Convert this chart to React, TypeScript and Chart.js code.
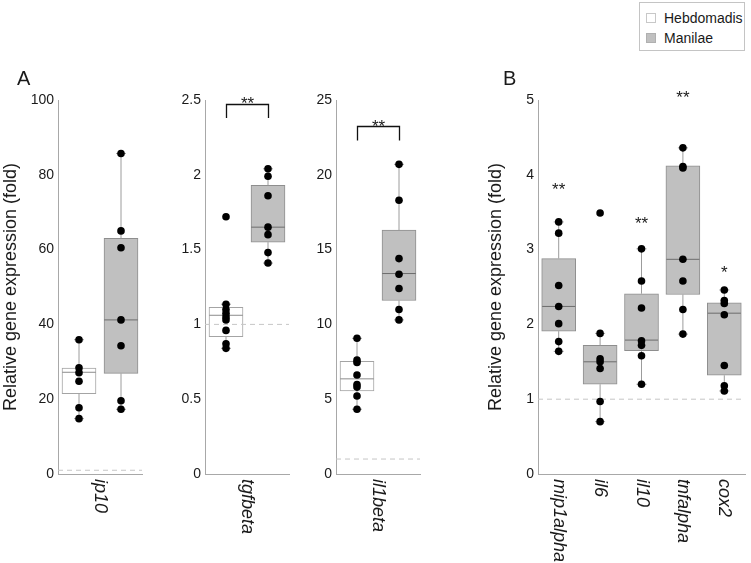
import React, { useEffect, useRef } from "react";
import { Chart, registerables } from "chart.js";

Chart.register(...registerables);

const FONT = "'Liberation Sans', Arial, Helvetica, sans-serif";
const AXIS_COLOR = "#a8a8a8";
const WHISKER_COLOR = "#9c9c9c";
const REF_COLOR = "#c6c6c6";
const TEXT_COLOR = "#1a1a1a";

// ---------- legend ----------
const groupNames = ["Hebdomadis", "Manilae"];
const groupFills = ["#ffffff", "#c0c0c0"];
const groupBorders = ["#a4a4a4", "#8e8e8e"];
const groupMedians = ["#8c8c8c", "#6c6c6c"];

// box stats per category: [min, q1, median, q3, max]
// ---------- Panel A: ip10 ----------
const ip10Categories = ["ip10"];
const ip10HebBox = [[14.8, 21.5, 27.2, 28.3, 35.9]];
const ip10HebPoints = [[35.9, 28.4, 27.1, 24.8, 17.7, 14.8]];
const ip10ManBox = [[17.3, 26.9, 41.2, 63.0, 85.7]];
const ip10ManPoints = [[85.7, 65.0, 60.5, 41.2, 34.3, 19.6, 17.3]];
const ip10Ticks = [0, 100, 20];

// ---------- Panel A: tgfbeta ----------
const tgfCategories = ["tgfbeta"];
const tgfHebBox = [[0.84, 0.918, 1.061, 1.114, 1.135]];
const tgfHebPoints = [[1.72, 1.135, 1.1, 1.075, 1.05, 1.03, 0.96, 0.87, 0.84]];
const tgfManBox = [[1.41, 1.55, 1.65, 1.93, 2.04]];
const tgfManPoints = [[2.04, 1.99, 1.86, 1.65, 1.6, 1.48, 1.41]];
const tgfTicks = [0, 2.5, 0.5];
const tgfBracket = [2.47, 2.38];
const tgfStars = ["**"];
const tgfStarValues = [2.51];

// ---------- Panel A: il1beta ----------
const il1Categories = ["il1beta"];
const il1HebBox = [[4.33, 5.56, 6.36, 7.53, 9.07]];
const il1HebPoints = [[9.07, 7.62, 7.46, 6.62, 5.98, 5.81, 5.21, 4.33]];
const il1ManBox = [[10.3, 11.6, 13.4, 16.3, 20.7]];
const il1ManPoints = [[20.7, 18.3, 14.4, 13.35, 12.4, 11.0, 10.3]];
const il1Ticks = [0, 25, 5];
const il1Bracket = [23.26, 22.3];
const il1Stars = ["**"];
const il1StarValues = [23.55];

// ---------- Panel B ----------
const bCategories = ["mip1alpha", "il6", "il10", "tnfalpha", "cox2"];
const bManBox = [
  [1.64, 1.91, 2.24, 2.88, 3.37],
  [0.7, 1.2, 1.5, 1.72, 1.88],
  [1.2, 1.65, 1.79, 2.41, 3.01],
  [1.87, 2.4, 2.87, 4.12, 4.36],
  [1.11, 1.32, 2.15, 2.29, 2.46],
];
const bManPoints = [
  [3.37, 3.22, 2.52, 2.24, 2.01, 1.77, 1.64],
  [3.49, 1.88, 1.54, 1.5, 1.41, 0.97, 0.7],
  [3.01, 2.58, 2.22, 1.78, 1.72, 1.58, 1.2],
  [4.36, 4.11, 4.09, 2.87, 2.58, 2.2, 1.87],
  [2.46, 2.32, 2.28, 2.13, 1.45, 1.18, 1.11],
];
const bTicks = [0, 5, 1];
const bStars = ["**", "", "**", "**", "*"];
const bStarValues = [3.86, 0, 3.41, 5.09, 2.75];

const refValue = 1;
const yTitle = "Relative gene expression (fold)";

type Group = { idx: number; boxes: number[][]; points: number[][] };
type Spec = {
  key: string;
  left: number;
  width: number;
  yAxisWidth: number;
  padRight: number;
  categories: string[];
  groups: Group[];
  ticks: number[];
  title?: boolean;
  titlePad?: number;
  letter?: string;
  letterX?: number;
  bracket?: number[];
  stars?: string[];
  starValues?: number[];
};

const H = 563;
const PLOT_TOP = 100;
const PLOT_BOTTOM = 474;
const BOX_PX = 34;

function buildConfig(spec: Spec): any {
  const nCat = spec.categories.length;
  const g = spec.groups.length;
  const datasets: any[] = [];
  datasets.push({
    type: "line",
    data: [
      { x: 0, y: refValue },
      { x: nCat, y: refValue },
    ],
    borderColor: REF_COLOR,
    borderWidth: 1,
    borderDash: [5, 4],
    pointRadius: 0,
    order: 4,
  });
  spec.groups.forEach((grp, j) => {
    const centers = spec.categories.map((_, i) => i + (j + 0.5) / g);
    const hw = 0.4 / g;
    datasets.push({
      type: "bar",
      label: groupNames[grp.idx],
      data: grp.boxes.map((b, i) => ({ x: centers[i], y: [b[1], b[3]] })),
      backgroundColor: groupFills[grp.idx],
      borderColor: groupBorders[grp.idx],
      borderWidth: 1,
      borderSkipped: false,
      grouped: false,
      categoryPercentage: 1,
      barPercentage: 1,
      maxBarThickness: BOX_PX,
      order: 6,
    });
    const whisk: any[] = [];
    grp.boxes.forEach((b, i) => {
      const c = centers[i];
      whisk.push({ x: c, y: b[0] }, { x: c, y: b[1] }, { x: c, y: null }, { x: c, y: b[3] }, { x: c, y: b[4] }, { x: c, y: null });
    });
    datasets.push({
      type: "line",
      data: whisk,
      borderColor: WHISKER_COLOR,
      borderWidth: 1,
      pointRadius: 0,
      spanGaps: false,
      order: 3,
    });
    const caps: any[] = [];
    grp.boxes.forEach((b, i) => {
      caps.push({ x: centers[i], y: b[0] }, { x: centers[i], y: b[4] });
    });
    datasets.push({
      type: "scatter",
      data: caps,
      pointStyle: "line",
      pointRadius: 5,
      pointBorderColor: WHISKER_COLOR,
      borderColor: WHISKER_COLOR,
      pointBorderWidth: 1,
      order: 3,
    });
    const med: any[] = [];
    grp.boxes.forEach((b, i) => {
      med.push({ x: centers[i] - hw, y: b[2] }, { x: centers[i] + hw, y: b[2] }, { x: centers[i], y: null });
    });
    datasets.push({
      type: "line",
      data: med,
      borderColor: groupMedians[grp.idx],
      borderWidth: 1,
      pointRadius: 0,
      spanGaps: false,
      order: 2,
    });
    const pts: any[] = [];
    grp.points.forEach((arr, i) => arr.forEach((v) => pts.push({ x: centers[i], y: v })));
    datasets.push({
      type: "scatter",
      data: pts,
      pointRadius: 3.8,
      pointBackgroundColor: "#000",
      backgroundColor: "#000",
      pointBorderWidth: 0,
      order: 1,
    });
  });

  const plugin = {
    id: "overlay_" + spec.key,
    afterDraw(chart: any) {
      const ctx = chart.ctx;
      const xs = chart.scales.x;
      const ys = chart.scales.y;
      const area = chart.chartArea;
      ctx.save();
      ctx.fillStyle = TEXT_COLOR;
      ctx.font = `italic 18px ${FONT}`;
      ctx.textAlign = "left";
      ctx.textBaseline = "middle";
      spec.categories.forEach((c, i) => {
        const px = xs.getPixelForValue(i + 0.5);
        ctx.save();
        ctx.translate(px, area.bottom + 5);
        ctx.rotate(Math.PI / 2);
        ctx.fillText(c, 0, 0);
        ctx.restore();
      });
      if (spec.letter) {
        ctx.font = `20px ${FONT}`;
        ctx.textBaseline = "alphabetic";
        ctx.fillText(spec.letter, spec.letterX || 0, 85);
      }
      ctx.font = `17px ${FONT}`;
      ctx.textAlign = "center";
      ctx.textBaseline = "alphabetic";
      if (spec.bracket) {
        const x1 = Math.round(xs.getPixelForValue(0.25)) + 0.5;
        const x2 = Math.round(xs.getPixelForValue(0.75)) + 0.5;
        const yt = Math.round(ys.getPixelForValue(spec.bracket[0])) + 0.5;
        const yb = ys.getPixelForValue(spec.bracket[1]);
        ctx.strokeStyle = "#111";
        ctx.lineWidth = 1.3;
        ctx.beginPath();
        ctx.moveTo(x1, yb);
        ctx.lineTo(x1, yt);
        ctx.lineTo(x2, yt);
        ctx.lineTo(x2, yb);
        ctx.stroke();
        const sy = ys.getPixelForValue(spec.starValues![0]);
        ctx.fillText(spec.stars![0], (x1 + x2) / 2, sy + 10);
      } else if (spec.stars) {
        spec.stars.forEach((s, i) => {
          if (!s) return;
          const px = xs.getPixelForValue(i + 0.5);
          const sy = ys.getPixelForValue(spec.starValues![i]);
          ctx.fillText(s, px, sy + 10);
        });
      }
      ctx.restore();
    },
  };

  return {
    type: "bar",
    data: { datasets },
    plugins: [plugin],
    options: {
      responsive: false,
      animation: false,
      events: [],
      layout: {
        padding: { left: 0, top: PLOT_TOP, right: spec.padRight, bottom: 0 },
      },
      plugins: {
        legend: { display: false },
        tooltip: { enabled: false },
      },
      scales: {
        x: {
          type: "linear",
          offset: false,
          min: 0,
          max: nCat,
          grid: { display: false, drawTicks: false, offset: false },
          border: { display: true, color: AXIS_COLOR, width: 1 },
          ticks: { display: false, stepSize: 1 / g },
          afterFit: (s: any) => {
            s.height = H - PLOT_BOTTOM;
          },
        },
        y: {
          type: "linear",
          position: "left",
          min: spec.ticks[0],
          max: spec.ticks[1],
          grid: { display: false, drawTicks: false },
          border: { display: true, color: AXIS_COLOR, width: 1 },
          ticks: {
            stepSize: spec.ticks[2],
            padding: 4,
            color: TEXT_COLOR,
            font: { family: FONT, size: 14 },
            callback: (v: number) => String(Math.round(v * 100) / 100),
          },
          title: {
            display: !!spec.title,
            text: yTitle,
            color: TEXT_COLOR,
            font: { family: FONT, size: 18 },
            padding: { top: spec.titlePad || 0, bottom: 0 },
          },
          afterFit: (s: any) => {
            s.width = spec.yAxisWidth;
          },
        },
      },
    },
  };
}

const specs: Spec[] = [
  {
    key: "ip10",
    left: 0,
    width: 150,
    yAxisWidth: 58,
    padRight: 8,
    categories: ip10Categories,
    groups: [
      { idx: 0, boxes: ip10HebBox, points: ip10HebPoints },
      { idx: 1, boxes: ip10ManBox, points: ip10ManPoints },
    ],
    ticks: ip10Ticks,
    title: true,
    titlePad: 0,
    letter: "A",
    letterX: 17,
  },
  {
    key: "tgf",
    left: 150,
    width: 146,
    yAxisWidth: 55,
    padRight: 7,
    categories: tgfCategories,
    groups: [
      { idx: 0, boxes: tgfHebBox, points: tgfHebPoints },
      { idx: 1, boxes: tgfManBox, points: tgfManPoints },
    ],
    ticks: tgfTicks,
    bracket: tgfBracket,
    stars: tgfStars,
    starValues: tgfStarValues,
  },
  {
    key: "il1",
    left: 296,
    width: 130,
    yAxisWidth: 40,
    padRight: 6,
    categories: il1Categories,
    groups: [
      { idx: 0, boxes: il1HebBox, points: il1HebPoints },
      { idx: 1, boxes: il1ManBox, points: il1ManPoints },
    ],
    ticks: il1Ticks,
    bracket: il1Bracket,
    stars: il1Stars,
    starValues: il1StarValues,
  },
  {
    key: "b",
    left: 478,
    width: 273,
    yAxisWidth: 60,
    padRight: 2,
    categories: bCategories,
    groups: [{ idx: 1, boxes: bManBox, points: bManPoints }],
    ticks: bTicks,
    title: true,
    titlePad: 7,
    letter: "B",
    letterX: 25,
    stars: bStars,
    starValues: bStarValues,
  },
];

function Panel({ spec }: { spec: Spec }) {
  const ref = useRef<HTMLCanvasElement | null>(null);
  useEffect(() => {
    if (!ref.current) return;
    const chart = new Chart(ref.current, buildConfig(spec));
    return () => chart.destroy();
  }, [spec]);
  return (
    <canvas
      ref={ref}
      width={spec.width}
      height={H}
      style={{ position: "absolute", left: spec.left, top: 0, width: spec.width, height: H }}
    />
  );
}

export default function App() {
  Chart.defaults.font.family = FONT;
  return (
    <div
      style={{
        position: "fixed",
        left: 0,
        top: 0,
        width: 751,
        height: 563,
        background: "#fff",
        overflow: "hidden",
        fontFamily: FONT,
      }}
    >
      {specs.map((s) => (
        <Panel key={s.key} spec={s} />
      ))}
      <div
        style={{
          position: "absolute",
          left: 639,
          top: 2,
          width: 106,
          height: 49,
          border: "1px solid #c4c4c4",
          boxSizing: "border-box",
          background: "#fff",
          fontSize: 14,
          color: TEXT_COLOR,
        }}
      >
        {groupNames.map((n, i) => (
          <div
            key={n}
            style={{ position: "absolute", left: 6, top: 7 + i * 20, height: 16, display: "flex", alignItems: "center" }}
          >
            <span
              style={{
                display: "inline-block",
                width: 10,
                height: 10,
                boxSizing: "border-box",
                border: `1px solid ${i === 0 ? "#c8c8c8" : "#b0b0b0"}`,
                background: groupFills[i],
                marginRight: 8,
              }}
            />
            <span style={{ lineHeight: "16px" }}>{n}</span>
          </div>
        ))}
      </div>
    </div>
  );
}
